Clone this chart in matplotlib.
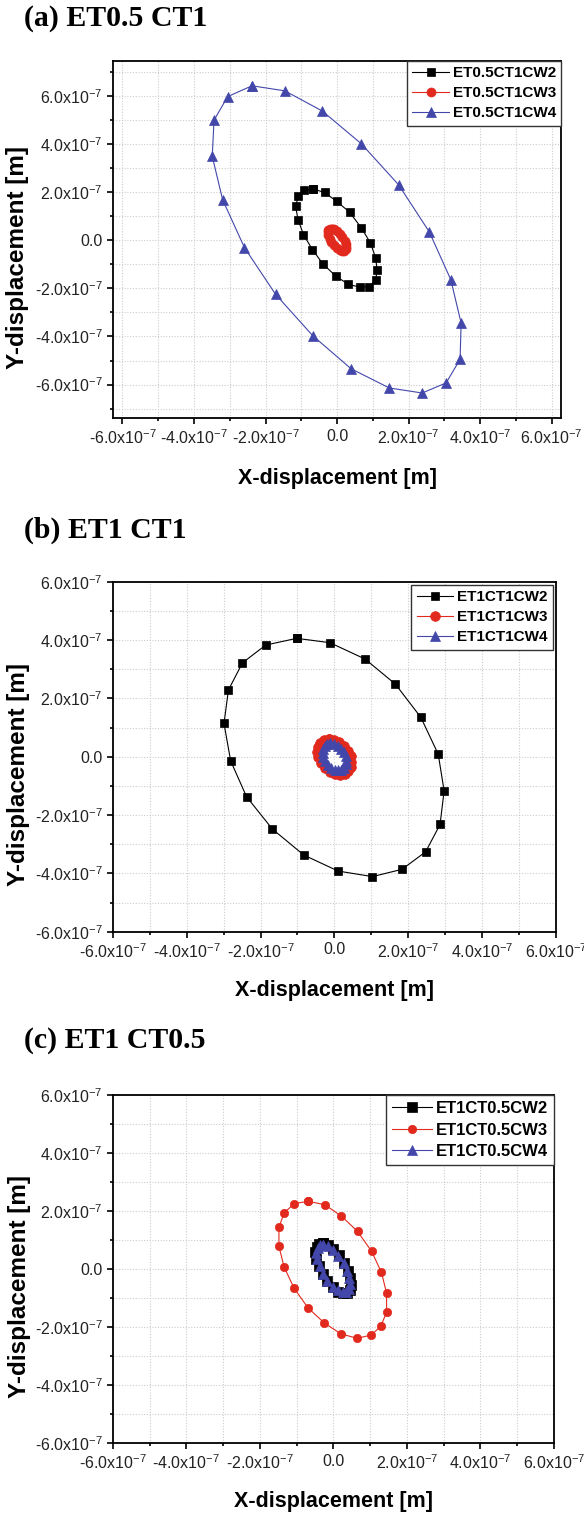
import matplotlib
matplotlib.use("Agg")
import matplotlib.pyplot as plt
from matplotlib.ticker import MultipleLocator, FuncFormatter

# orbit data, all values in units of 1e-7 m

# (a) ET0.5 CT1
a_cw2_x = [-0.66, -0.35, -0.01, 0.35, 0.68, 0.93, 1.08, 1.12, 1.08, 0.89,
           0.63, 0.32, -0.04, -0.40, -0.69, -0.94, -1.09, -1.16, -1.08, -0.93]
a_cw2_y = [2.12, 1.98, 1.61, 1.16, 0.51, -0.11, -0.73, -1.25, -1.66, -1.93,
           -1.95, -1.84, -1.49, -0.98, -0.39, 0.23, 0.85, 1.40, 1.85, 2.07]
a_cw3_x = [-0.15, -0.08, 0.00, 0.08, 0.15, 0.21, 0.25, 0.26, 0.25, 0.20,
           0.14, 0.08, -0.01, -0.09, -0.16, -0.21, -0.25, -0.26, -0.25, -0.21]
a_cw3_y = [0.48, 0.45, 0.37, 0.26, 0.12, -0.03, -0.17, -0.29, -0.38, -0.44,
           -0.45, -0.43, -0.34, -0.22, -0.09, 0.05, 0.20, 0.32, 0.43, 0.48]
a_cw4_x = [-2.38, -1.46, -0.41, 0.68, 1.72, 2.58, 3.18, 3.47, 3.44, 3.05,
           2.38, 1.46, 0.39, -0.68, -1.72, -2.59, -3.20, -3.49, -3.44, -3.06]
a_cw4_y = [6.41, 6.20, 5.36, 4.00, 2.30, 0.34, -1.64, -3.45, -4.95, -5.93,
           -6.35, -6.14, -5.34, -3.97, -2.25, -0.31, 1.68, 3.48, 4.98, 5.96]

# (b) ET1 CT1
b_cw2_x = [-1.02, -0.12, 0.83, 1.65, 2.34, 2.81, 2.97, 2.86, 2.47, 1.83,
           1.03, 0.10, -0.83, -1.68, -2.38, -2.81, -2.99, -2.87, -2.49, -1.86]
b_cw2_y = [4.06, 3.91, 3.35, 2.49, 1.35, 0.09, -1.17, -2.32, -3.26, -3.86,
           -4.11, -3.92, -3.37, -2.48, -1.37, -0.14, 1.14, 2.29, 3.22, 3.83]
b_cw3_x = [-0.16, -0.02, 0.13, 0.26, 0.36, 0.44, 0.46, 0.44, 0.38, 0.28,
           0.16, 0.02, -0.13, -0.26, -0.37, -0.44, -0.46, -0.44, -0.39, -0.29]
b_cw3_y = [0.61, 0.59, 0.50, 0.37, 0.20, 0.01, -0.18, -0.35, -0.49, -0.58,
           -0.62, -0.59, -0.51, -0.37, -0.21, -0.02, 0.17, 0.34, 0.48, 0.57]
b_cw4_x = [-0.11, -0.01, 0.09, 0.18, 0.25, 0.30, 0.32, 0.30, 0.26, 0.19,
           0.11, 0.01, -0.09, -0.18, -0.25, -0.30, -0.32, -0.30, -0.26, -0.19]
b_cw4_y = [0.46, 0.44, 0.38, 0.28, 0.15, 0.01, -0.13, -0.26, -0.37, -0.44,
           -0.46, -0.44, -0.38, -0.28, -0.15, -0.01, 0.13, 0.26, 0.36, 0.43]

# (c) ET1 CT0.5
c_cw2_x = [-0.28, -0.15, 0.00, 0.15, 0.29, 0.39, 0.45, 0.47, 0.45, 0.37,
           0.26, 0.13, -0.02, -0.17, -0.29, -0.39, -0.46, -0.49, -0.45, -0.39]
c_cw2_y = [0.89, 0.83, 0.68, 0.49, 0.21, -0.05, -0.31, -0.53, -0.70, -0.81,
           -0.82, -0.77, -0.63, -0.41, -0.16, 0.10, 0.36, 0.59, 0.78, 0.87]
c_cw3_x = [-0.68, -0.23, 0.22, 0.66, 1.04, 1.31, 1.45, 1.45, 1.29, 1.03,
           0.65, 0.21, -0.24, -0.69, -1.07, -1.34, -1.48, -1.48, -1.34, -1.06]
c_cw3_y = [2.34, 2.22, 1.83, 1.30, 0.62, -0.11, -0.83, -1.48, -1.97, -2.27,
           -2.38, -2.23, -1.86, -1.33, -0.65, 0.08, 0.79, 1.44, 1.94, 2.26]
c_cw4_x = [-0.27, -0.14, 0.00, 0.14, 0.28, 0.37, 0.43, 0.45, 0.43, 0.35,
           0.25, 0.12, -0.02, -0.16, -0.28, -0.37, -0.44, -0.47, -0.43, -0.37]
c_cw4_y = [0.85, 0.79, 0.65, 0.47, 0.20, -0.05, -0.29, -0.50, -0.67, -0.77,
           -0.78, -0.73, -0.60, -0.39, -0.15, 0.10, 0.34, 0.56, 0.74, 0.83]

titles = ["(a) ET0.5 CT1", "(b) ET1 CT1", "(c) ET1 CT0.5"]
labels_a = ["ET0.5CT1CW2", "ET0.5CT1CW3", "ET0.5CT1CW4"]
labels_b = ["ET1CT1CW2", "ET1CT1CW3", "ET1CT1CW4"]
labels_c = ["ET1CT0.5CW2", "ET1CT0.5CW3", "ET1CT0.5CW4"]

NEGRO = "black"
ROJO = "#e2291d"
AZUL = "#4347aa"

plt.rcParams['font.family'] = 'Liberation Sans'
plt.rcParams['mathtext.fontset'] = 'custom'
plt.rcParams['mathtext.rm'] = 'Liberation Sans'
plt.rcParams['mathtext.default'] = 'regular'
plt.rcParams['axes.unicode_minus'] = False


def fmt_tick(v, pos):
    if abs(v) < 1e-9:
        return "0.0"
    return "%.1fx10$^{-7}$" % v


def cerrar(xs, ys):
    # orbit is drawn as a closed loop
    return list(xs) + [xs[0]], list(ys) + [ys[0]]


def panel(ax, series, xlim, ylim, leg_size, leg_pad):
    for xs, ys, color, marker, ms, label in series:
        xx, yy = cerrar(xs, ys)
        ax.plot(xx, yy, color=color, lw=0.8, marker=marker, ms=ms,
                mec=color, mew=0.5, label=label)
    ax.set_xlim(*xlim)
    ax.set_ylim(*ylim)
    ax.xaxis.set_major_locator(MultipleLocator(2))
    ax.xaxis.set_minor_locator(MultipleLocator(1))
    ax.yaxis.set_major_locator(MultipleLocator(2))
    ax.yaxis.set_minor_locator(MultipleLocator(1))
    ax.xaxis.set_major_formatter(FuncFormatter(fmt_tick))
    ax.yaxis.set_major_formatter(FuncFormatter(fmt_tick))
    ax.set_axisbelow(True)
    ax.grid(which='both', color='#cccccc', linestyle=(0, (1, 1.5)), lw=0.8)
    ax.tick_params(which='both', direction='out', top=False, right=False,
                   width=1.2, labelsize=11.5, labelcolor='#222222', pad=3)
    ax.tick_params(which='major', length=4.5)
    ax.tick_params(which='minor', length=2.5)
    for s in ax.spines.values():
        s.set_linewidth(1.3)
    ax.set_xlabel("X-displacement [m]", fontsize=15.5, fontweight='bold')
    ax.set_ylabel("Y-displacement [m]", fontsize=17.5, fontweight='bold')
    ax.xaxis.set_label_coords(0.5, -0.138)
    ax.yaxis.set_label_coords(-0.186, 0.45)
    leg = ax.legend(loc='upper right', bbox_to_anchor=(1, 1), borderaxespad=leg_pad,
                    fancybox=False, framealpha=1, edgecolor='#333333',
                    prop={'size': leg_size, 'weight': 'bold'}, numpoints=1,
                    handlelength=2.4, handletextpad=0.25, labelspacing=0.4,
                    borderpad=0.35)
    leg.get_frame().set_linewidth(1.0)


fig = plt.figure(figsize=(5.84, 15.15), dpi=100)

ax_a = fig.add_axes([0.1932, 0.7239, 0.7679, 0.2360])
panel(ax_a, [(a_cw2_x, a_cw2_y, NEGRO, 's', 5.5, labels_a[0]),
             (a_cw3_x, a_cw3_y, ROJO, 'o', 6.5, labels_a[1]),
             (a_cw4_x, a_cw4_y, AZUL, '^', 7.5, labels_a[2])],
      (-6.27, 6.27), (-7.4, 7.45), 11, 0)

ax_b = fig.add_axes([0.1932, 0.3850, 0.7589, 0.2310])
panel(ax_b, [(b_cw2_x, b_cw2_y, NEGRO, 's', 5.5, labels_b[0]),
             (b_cw3_x, b_cw3_y, ROJO, 'o', 7, labels_b[1]),
             (b_cw4_x, b_cw4_y, AZUL, '^', 7.5, labels_b[2])],
      (-6, 6), (-6, 6), 11, 0.2)

ax_c = fig.add_axes([0.1932, 0.0473, 0.7551, 0.2299])
panel(ax_c, [(c_cw2_x, c_cw2_y, NEGRO, 's', 7, labels_c[0]),
             (c_cw3_x, c_cw3_y, ROJO, 'o', 6, labels_c[1]),
             (c_cw4_x, c_cw4_y, AZUL, '^', 7.5, labels_c[2])],
      (-6, 6), (-6, 6), 12, 0)

# panel titles
for t, ypix in zip(titles, [19, 530, 1041]):
    fig.text(24 / 584, 1 - ypix / 1515, t, family='Liberation Serif',
             fontweight='bold', fontsize=21.5, va='center', ha='left')

fig.savefig("out.png", dpi=100)
